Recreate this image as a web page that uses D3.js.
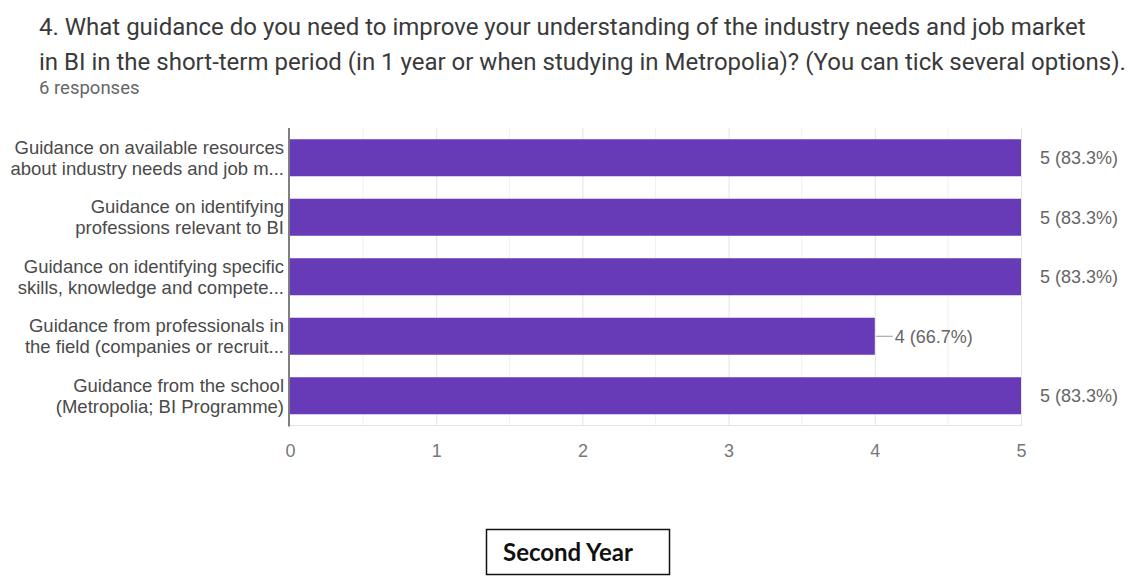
<!DOCTYPE html>
<html>
<head>
<meta charset="utf-8">
<script src="https://cdn.jsdelivr.net/npm/d3@7"></script>
<style>
  html, body { margin: 0; padding: 0; background: #fff; }
  svg { display: block; }
</style>
</head>
<body>
<div id="chart"></div>
<script>
// Question text and survey info
const titleLines = [
  "4. What guidance do you need to improve your understanding of the industry needs and job market",
  "in BI in the short-term period (in 1 year or when studying in Metropolia)? (You can tick several options)."
];
const responses = 6;

// Answer options (as wrapped/truncated in the summary) and their counts
const categoryLines = [
  ["Guidance on available resources", "about industry needs and job m..."],
  ["Guidance on identifying", "professions relevant to BI"],
  ["Guidance on identifying specific", "skills, knowledge and compete..."],
  ["Guidance from professionals in", "the field (companies or recruit..."],
  ["Guidance from the school", "(Metropolia; BI Programme)"]
];
const counts = [5, 5, 5, 4, 5];
const xTicks = [0, 1, 2, 3, 4, 5];
const caption = "Second Year";

const W = 1133, H = 576;
const svg = d3.select("#chart").append("svg")
  .attr("width", W).attr("height", H);

svg.append("rect").attr("width", W).attr("height", H).attr("fill", "#fff");

// Heading
svg.append("g").selectAll("text")
  .data(titleLines)
  .join("text")
  .attr("x", 39)
  .attr("y", (d, i) => 35 + i * 35)
  .attr("font-family", "Roboto, sans-serif")
  .attr("font-size", 24)
  .attr("fill", "#3a3a3a")
  .text(d => d);

svg.append("text")
  .attr("x", 39).attr("y", 94)
  .attr("font-family", "Roboto, sans-serif")
  .attr("font-size", 18.5)
  .attr("fill", "#666")
  .text(`${responses} responses`);

// Scales
const x = d3.scaleLinear().domain([0, d3.max(xTicks)]).range([290, 1021]);
const y = d3.scaleBand()
  .domain(d3.range(counts.length))
  .range([128, 425.5])
  .paddingInner(0.378)
  .paddingOuter(0.189);

const plotTop = 128, plotBottom = 425.5;

// Gridlines: minor at half units, major at whole units
const grid = svg.append("g");
grid.selectAll("line.minor")
  .data(x.ticks(10).filter(t => !xTicks.includes(t)))
  .join("line")
  .attr("class", "minor")
  .attr("x1", d => x(d)).attr("x2", d => x(d))
  .attr("y1", plotTop).attr("y2", plotBottom)
  .attr("stroke", "#f1f1f1").attr("stroke-width", 1);
grid.selectAll("line.major")
  .data(xTicks.slice(1))
  .join("line")
  .attr("class", "major")
  .attr("x1", d => x(d) + 0.5).attr("x2", d => x(d) + 0.5)
  .attr("y1", plotTop).attr("y2", plotBottom)
  .attr("stroke", "#e4e4e4").attr("stroke-width", 1);
grid.append("line")
  .attr("x1", x(0)).attr("x2", x(5) + 1)
  .attr("y1", plotBottom).attr("y2", plotBottom)
  .attr("stroke", "#e4e4e4").attr("stroke-width", 1);

// Bars
svg.append("g").selectAll("rect")
  .data(counts)
  .join("rect")
  .attr("x", x(0))
  .attr("y", (d, i) => y(i))
  .attr("width", d => x(d) - x(0))
  .attr("height", y.bandwidth())
  .attr("fill", "#673ab7");

// Vertical baseline
svg.append("line")
  .attr("x1", x(0) - 1).attr("x2", x(0) - 1)
  .attr("y1", plotTop).attr("y2", plotBottom + 1)
  .attr("stroke", "#555").attr("stroke-width", 1.5);

// X axis tick labels
const xAxis = d3.axisBottom(x).tickValues(xTicks).tickSize(0).tickPadding(19)
  .tickFormat(d3.format("d"));
const gx = svg.append("g").attr("transform", `translate(0,${plotBottom})`).call(xAxis);
gx.select(".domain").remove();
gx.selectAll("text")
  .attr("font-family", "Liberation Sans, Arial, sans-serif")
  .attr("font-size", 18)
  .attr("fill", "#777");

// Category labels (two lines each, right aligned)
const labels = svg.append("g");
categoryLines.forEach((lines, i) => {
  const cy = y(i) + y.bandwidth() / 2;
  labels.append("text")
    .attr("x", 284)
    .attr("y", cy - 10.5)
    .attr("text-anchor", "end")
    .attr("font-family", "Liberation Sans, Arial, sans-serif")
    .attr("font-size", 18.5)
    .attr("fill", "#4a4a4a")
    .selectAll("tspan")
    .data(lines)
    .join("tspan")
    .attr("x", 284)
    .attr("dy", (d, j) => j === 0 ? "0.35em" : "21px")
    .text(d => d);
});

// Value annotations
const fmtPct = v => (v / responses * 100).toFixed(1) + "%";
const ann = svg.append("g");
counts.forEach((v, i) => {
  const cy = y(i) + y.bandwidth() / 2;
  const atMax = v === d3.max(xTicks);
  let tx;
  if (atMax) {
    tx = x(v) + 19;
  } else {
    ann.append("line")
      .attr("x1", x(v) + 1).attr("x2", x(v) + 18)
      .attr("y1", cy).attr("y2", cy)
      .attr("stroke", "#999").attr("stroke-width", 1);
    tx = x(v) + 20;
  }
  ann.append("text")
    .attr("x", tx)
    .attr("y", cy)
    .attr("dy", "0.35em")
    .attr("font-family", "Liberation Sans, Arial, sans-serif")
    .attr("font-size", 18)
    .attr("fill", "#666")
    .text(`${v} (${fmtPct(v)})`);
});

// Caption box
const cap = svg.append("g");
cap.append("rect")
  .attr("x", 486.5).attr("y", 529.5)
  .attr("width", 183).attr("height", 45)
  .attr("fill", "#fff").attr("stroke", "#111").attr("stroke-width", 1.5);
cap.append("text")
  .attr("x", 503).attr("y", 553)
  .attr("dy", "0.35em")
  .attr("font-family", "Lato, sans-serif")
  .attr("font-weight", "bold")
  .attr("font-size", 24)
  .attr("fill", "#111")
  .text(caption);
</script>
</body>
</html>
